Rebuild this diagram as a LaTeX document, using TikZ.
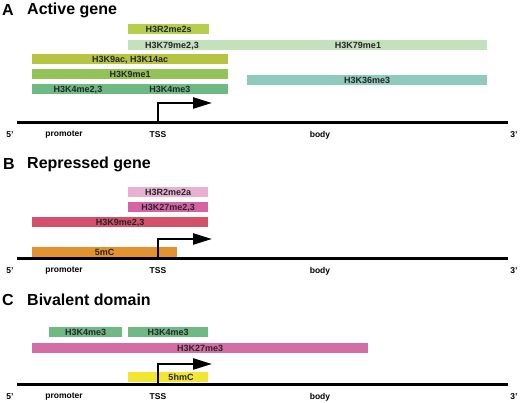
\documentclass[tikz,border=0pt]{standalone}
\usepackage{fontspec}
\setmainfont{Liberation Sans}
\usetikzlibrary{arrows.meta}

\definecolor{rtwos}{HTML}{B5CE4E}
\definecolor{kseventynine}{HTML}{C4E1BE}
\definecolor{kac}{HTML}{B7C443}
\definecolor{knineone}{HTML}{93C257}
\definecolor{kfour}{HTML}{6FB985}
\definecolor{kthirtysix}{HTML}{8FCBBD}
\definecolor{rtwoa}{HTML}{E9B0D2}
\definecolor{ktwentyseven}{HTML}{D563A8}
\definecolor{knine}{HTML}{D5506A}
\definecolor{fivemc}{HTML}{E3922F}
\definecolor{ktwentysevenc}{HTML}{D46CA6}
\definecolor{fivehmc}{HTML}{F2E633}

\begin{document}
\begin{tikzpicture}[x=1pt, y=-1pt,
    bar/.style = {anchor=north west, inner sep=0pt, minimum height=10pt,
                  font=\bfseries\fontsize{9}{10}\selectfont, text=black!85,
                  text height=6.4pt, text depth=0pt},
    barlabel/.style = {font=\bfseries\fontsize{9}{10}\selectfont, text=black!85,
                   text height=6.4pt, text depth=0pt, inner sep=0pt},
    paneltitle/.style = {anchor=west, inner sep=0pt, font=\bfseries\fontsize{16}{18}\selectfont},
    poslabel/.style = {inner sep=0pt, font=\bfseries\fontsize{8.5}{9}\selectfont},
    dna/.style = {line width=3pt},
    tss/.style = {line width=2.5pt, -{Triangle[length=19pt,width=11pt]}}]
  \useasboundingbox (0,0) rectangle (520,403);

  % gene lines and positions
  \foreach \y/\p in {123/A,259/B,385/C} {
    \coordinate (five\p) at (17,\y);
    \coordinate (three\p) at (508,\y);
    \draw[dna] (five\p) -- (three\p);
    \node[poslabel] (fl\p) at (10,\y+12) {5'};
    \node[poslabel] (prom\p) at (64,\y+12) {promoter};
    \node[poslabel] (tl\p) at (158,\y+12) {TSS};
    \node[poslabel] (body\p) at (320,\y+12) {body};
    \node[poslabel] (tl3\p) at (514,\y+12) {3'};
  }

  % A: active gene
  \node[paneltitle] (letA) at (2,10) {A};
  \node[paneltitle] (titA) at (27,10) {Active gene};
  \node[bar, fill=rtwos, minimum width=81pt] (r2s) at (128,24) {H3R2me2s};
  \node[bar, fill=kseventynine, minimum width=359pt] (k79) at (128,40) {};
  \node[barlabel] (k79a) at (172,45) {H3K79me2,3};
  \node[barlabel] (k79b) at (358,45) {H3K79me1};
  \node[bar, fill=kac, minimum width=196pt] (kac) at (32,54) {H3K9ac, H3K14ac};
  \node[bar, fill=knineone, minimum width=196pt] (k9me1) at (32,69) {H3K9me1};
  \node[bar, fill=kfour, minimum width=196pt] (k4) at (32,84) {};
  \node[barlabel] (k4a) at (78,89) {H3K4me2,3};
  \node[barlabel] (k4b) at (170,89) {H3K4me3};
  \node[bar, fill=kthirtysix, minimum width=240pt] (k36) at (247,75) {H3K36me3};
  \coordinate (tssA) at (158,123);
  \coordinate (headA) at (212,103);
  \draw[tss] (tssA) |- (headA);

  % B: repressed gene
  \node[paneltitle] (letB) at (3,164) {B};
  \node[paneltitle] (titB) at (27,164) {Repressed gene};
  \node[bar, fill=rtwoa, minimum width=80pt] (r2a) at (128,187) {H3R2me2a};
  \node[bar, fill=ktwentyseven, minimum width=80pt] (k27) at (128,202) {H3K27me2,3};
  \node[bar, fill=knine, minimum width=176pt] (k9) at (32,217) {H3K9me2,3};
  \node[bar, fill=fivemc, minimum width=145pt] (mc) at (32,247) {5mC};
  \coordinate (tssB) at (158,259);
  \coordinate (headB) at (212,239);
  \draw[tss] (tssB) |- (headB);

  % C: bivalent domain
  \node[paneltitle] (letC) at (2,300) {C};
  \node[paneltitle] (titC) at (27,300) {Bivalent domain};
  \node[bar, fill=kfour, minimum width=73pt] (k4l) at (49,327) {H3K4me3};
  \node[bar, fill=kfour, minimum width=80pt] (k4r) at (128,327) {H3K4me3};
  \node[bar, fill=ktwentysevenc, minimum width=336pt] (k27c) at (32,343) {H3K27me3};
  \node[bar, fill=fivehmc, minimum width=80pt] (hmc) at (128,372) {};
  \node[barlabel] (hmcl) at (181,377) {5hmC};
  \coordinate (tssC) at (158,385);
  \coordinate (headC) at (212,364);
  \draw[tss] (tssC) |- (headC);
\end{tikzpicture}
\end{document}
